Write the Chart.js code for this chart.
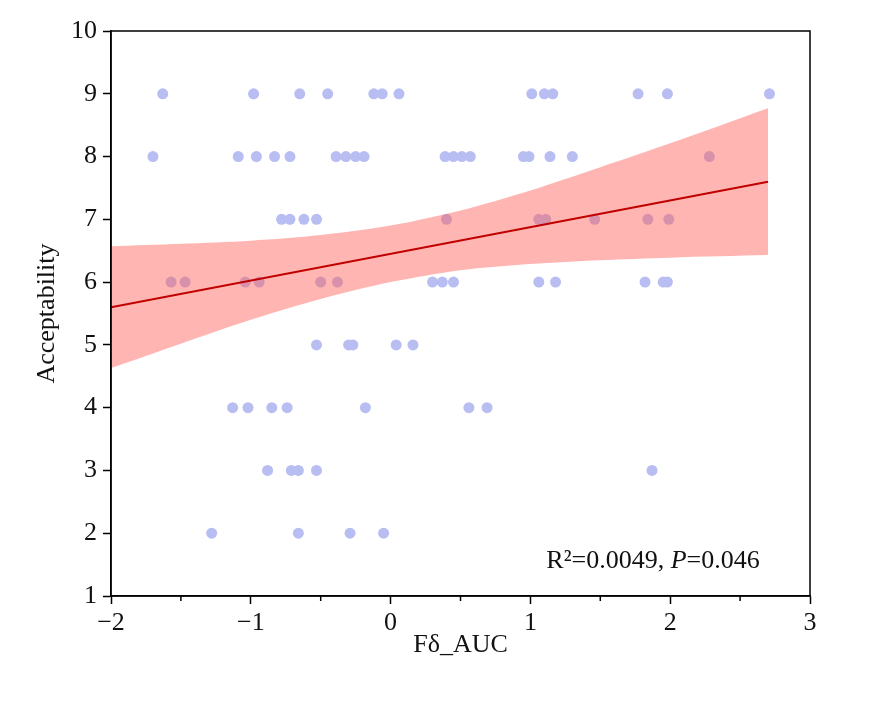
<!DOCTYPE html>
<html>
<head>
<meta charset="utf-8">
<script src="https://cdn.jsdelivr.net/npm/chart.js@4"></script>
<style>
  html, body { margin: 0; padding: 0; background: #fff; }
  #wrap { width: 894px; height: 701px; }
</style>
</head>
<body>
<div id="wrap"><canvas id="chart" width="894" height="701"></canvas></div>
<script>
// scatter points (paired arrays)
const fdAuc = [
  -1.63, -0.98, -0.65, -0.45, -0.12, -0.06, 0.06, 1.01, 1.10, 1.16, 1.77, 1.98, 2.71,
  -1.70, -1.09, -0.96, -0.83, -0.72, -0.39, -0.32, -0.25, -0.19, 0.39, 0.45, 0.51, 0.57, 0.95, 0.99, 1.14, 1.30, 2.28,
  -0.78, -0.72, -0.62, -0.53, 0.40, 1.06, 1.11, 1.46, 1.84, 1.99,
  -1.57, -1.47, -1.04, -0.94, -0.50, -0.38, 0.30, 0.37, 0.45, 1.06, 1.18, 1.82, 1.95, 1.98,
  -0.53, -0.30, -0.27, 0.04, 0.16,
  -1.13, -1.02, -0.85, -0.74, -0.18, 0.56, 0.69,
  -0.88, -0.71, -0.66, -0.53, 1.87,
  -1.28, -0.66, -0.29, -0.05
];
const acceptability = [
  9, 9, 9, 9, 9, 9, 9, 9, 9, 9, 9, 9, 9,
  8, 8, 8, 8, 8, 8, 8, 8, 8, 8, 8, 8, 8, 8, 8, 8, 8, 8,
  7, 7, 7, 7, 7, 7, 7, 7, 7, 7,
  6, 6, 6, 6, 6, 6, 6, 6, 6, 6, 6, 6, 6, 6,
  5, 5, 5, 5, 5,
  4, 4, 4, 4, 4, 4, 4,
  3, 3, 3, 3, 3,
  2, 2, 2, 2
];

// fitted line and its confidence band
const fitX = [-2, 2.7];
const fitY = [5.60, 7.60];
const bandX = [-2, -1.5, -1, -0.5, 0, 0.5, 1, 1.5, 2, 2.7];
const bandUpper = [6.57, 6.61, 6.66, 6.75, 6.90, 7.14, 7.46, 7.83, 8.21, 8.77];
const bandLower = [4.63, 5.02, 5.40, 5.73, 6.00, 6.19, 6.29, 6.35, 6.39, 6.43];

const xTicks = [-2, -1, 0, 1, 2, 3];
const xMinorTicks = [-1.5, -0.5, 0.5, 1.5, 2.5];
const yTicks = [1, 2, 3, 4, 5, 6, 7, 8, 9, 10];
const noteParts = [['R\u00b2=0.0049, ', 'normal'], ['P', 'italic'], ['=0.046', 'normal']];

const serif = '"Liberation Serif", "Times New Roman", serif';
const pairs = (xs, ys) => xs.map((x, i) => ({ x, y: ys[i] }));
const minus = v => String(v).replace('-', '\u2212');

const frameAndNote = {
  id: 'frameAndNote',
  afterDraw(chart) {
    const { ctx, chartArea: a, scales: { x, y } } = chart;
    ctx.save();
    ctx.strokeStyle = '#000';
    ctx.lineWidth = 1.5;
    ctx.strokeRect(a.left, a.top, a.right - a.left, a.bottom - a.top);

    ctx.beginPath();
    xMinorTicks.forEach(v => {
      const px = x.getPixelForValue(v);
      ctx.moveTo(px, a.bottom);
      ctx.lineTo(px, a.bottom + 5);
    });
    ctx.stroke();

    ctx.fillStyle = '#111';
    ctx.textBaseline = 'alphabetic';
    const widths = noteParts.map(([t, s]) => {
      ctx.font = `${s} 26px ${serif}`;
      return ctx.measureText(t).width;
    });
    let px = x.getPixelForValue(2.64) - widths.reduce((s, w) => s + w, 0);
    const py = y.getPixelForValue(1.45);
    noteParts.forEach(([t, s], i) => {
      ctx.font = `${s} 26px ${serif}`;
      ctx.fillText(t, px, py);
      px += widths[i];
    });
    ctx.restore();
  }
};

new Chart(document.getElementById('chart'), {
  data: {
    datasets: [
      {
        type: 'line',
        data: pairs(fitX, fitY),
        borderColor: '#c00000',
        borderWidth: 2,
        pointRadius: 0,
        fill: false
      },
      {
        type: 'line',
        data: pairs(bandX, bandUpper),
        borderWidth: 0,
        pointRadius: 0,
        tension: 0.3,
        fill: { target: 2 },
        backgroundColor: 'rgba(255, 90, 85, 0.45)'
      },
      {
        type: 'line',
        data: pairs(bandX, bandLower),
        borderWidth: 0,
        pointRadius: 0,
        tension: 0.3,
        fill: false
      },
      {
        type: 'scatter',
        data: pairs(fdAuc, acceptability),
        backgroundColor: 'rgb(184, 189, 242)',
        borderWidth: 0,
        pointRadius: 5.5
      }
    ]
  },
  options: {
    responsive: false,
    animation: false,
    layout: { padding: { left: 0, top: 31, right: 84, bottom: 0 } },
    plugins: { legend: { display: false }, tooltip: { enabled: false } },
    scales: {
      x: {
        type: 'linear',
        min: -2,
        max: 3,
        afterBuildTicks: s => { s.ticks = xTicks.map(value => ({ value })); },
        afterFit: s => { s.height = 105; },
        border: { display: true, color: '#000', width: 1.5 },
        grid: { drawOnChartArea: false, drawTicks: true, tickLength: 8, tickColor: '#000', tickWidth: 1.5 },
        ticks: { color: '#111', padding: 4, font: { family: serif, size: 26 }, callback: minus },
        title: { display: true, text: 'F\u03b4_AUC', color: '#111', font: { family: serif, size: 26 }, padding: { top: 0, bottom: 40 } }
      },
      y: {
        type: 'linear',
        min: 1,
        max: 10,
        afterBuildTicks: s => { s.ticks = yTicks.map(value => ({ value })); },
        afterFit: s => { s.width = 111; },
        border: { display: true, color: '#000', width: 1.5 },
        grid: { drawOnChartArea: false, drawTicks: true, tickLength: 8, tickColor: '#000', tickWidth: 1.5 },
        ticks: { color: '#111', padding: 6, font: { family: serif, size: 26 } },
        title: { display: true, text: 'Acceptability', color: '#111', font: { family: serif, size: 26 }, padding: { top: 32, bottom: 0 } }
      }
    }
  },
  plugins: [frameAndNote]
});
</script>
</body>
</html>
